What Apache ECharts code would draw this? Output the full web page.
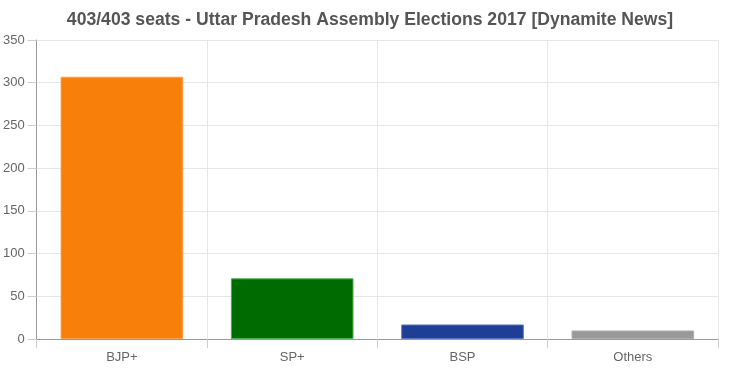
<!DOCTYPE html>
<html><head><meta charset="utf-8">
<script src="https://cdn.jsdelivr.net/npm/echarts@6/dist/echarts.min.js"></script>
<style>html,body{margin:0;padding:0;background:#fff}#c{width:740px;height:369px}</style>
</head><body><div id="c"></div>
<script>
const titleText = "403/403 seats - Uttar Pradesh Assembly Elections 2017 [Dynamite News]";
const categories = ["BJP+", "SP+", "BSP", "Others"];
const seats = [307, 71, 17, 10];
const barColors = ["#F77F0A", "#006B00", "#1F3F96", "#999999"];
const borderColors = ["#F9A050", "#4CAF50", "#5A78C0", "#B0B0B0"];
const yTicks = [0, 50, 100, 150, 200, 250, 300, 350];

const chart = echarts.init(document.getElementById('c'), null, {renderer: 'canvas'});
chart.setOption({
  animation: false,
  title: {
    text: titleText, left: 'center', top: 6,
    textStyle: {fontFamily: 'Liberation Sans, Arial', fontSize: 17.6, fontWeight: 'bold', color: '#555'}
  },
  grid: {left: 32, right: 22, top: 40, bottom: 30, containLabel: false},
  xAxis: {
    type: 'category', data: categories,
    axisLine: {lineStyle: {color: '#999'}},
    axisTick: {show: true, alignWithLabel: false, length: 9, lineStyle: {color: '#ccc'}},
    splitLine: {show: true, lineStyle: {color: '#e6e6e6'}},
    axisLabel: {color: '#666', fontFamily: 'Liberation Sans, Arial', fontSize: 13, margin: 12}
  },
  yAxis: {
    type: 'value', min: yTicks[0], max: yTicks[yTicks.length - 1], interval: 50,
    axisLine: {show: true, lineStyle: {color: '#999'}},
    axisTick: {show: true, inside: false, length: 9, lineStyle: {color: '#ccc'}},
    splitLine: {show: true, lineStyle: {color: '#e6e6e6'}},
    axisLabel: {color: '#666', fontFamily: 'Liberation Sans, Arial', fontSize: 13, margin: 12}
  },
  series: [{
    type: 'bar', barCategoryGap: '28%',
    data: seats.map((v, i) => ({value: v, itemStyle: {color: barColors[i], borderColor: borderColors[i], borderWidth: 1}}))
  }]
});
</script></body></html>
